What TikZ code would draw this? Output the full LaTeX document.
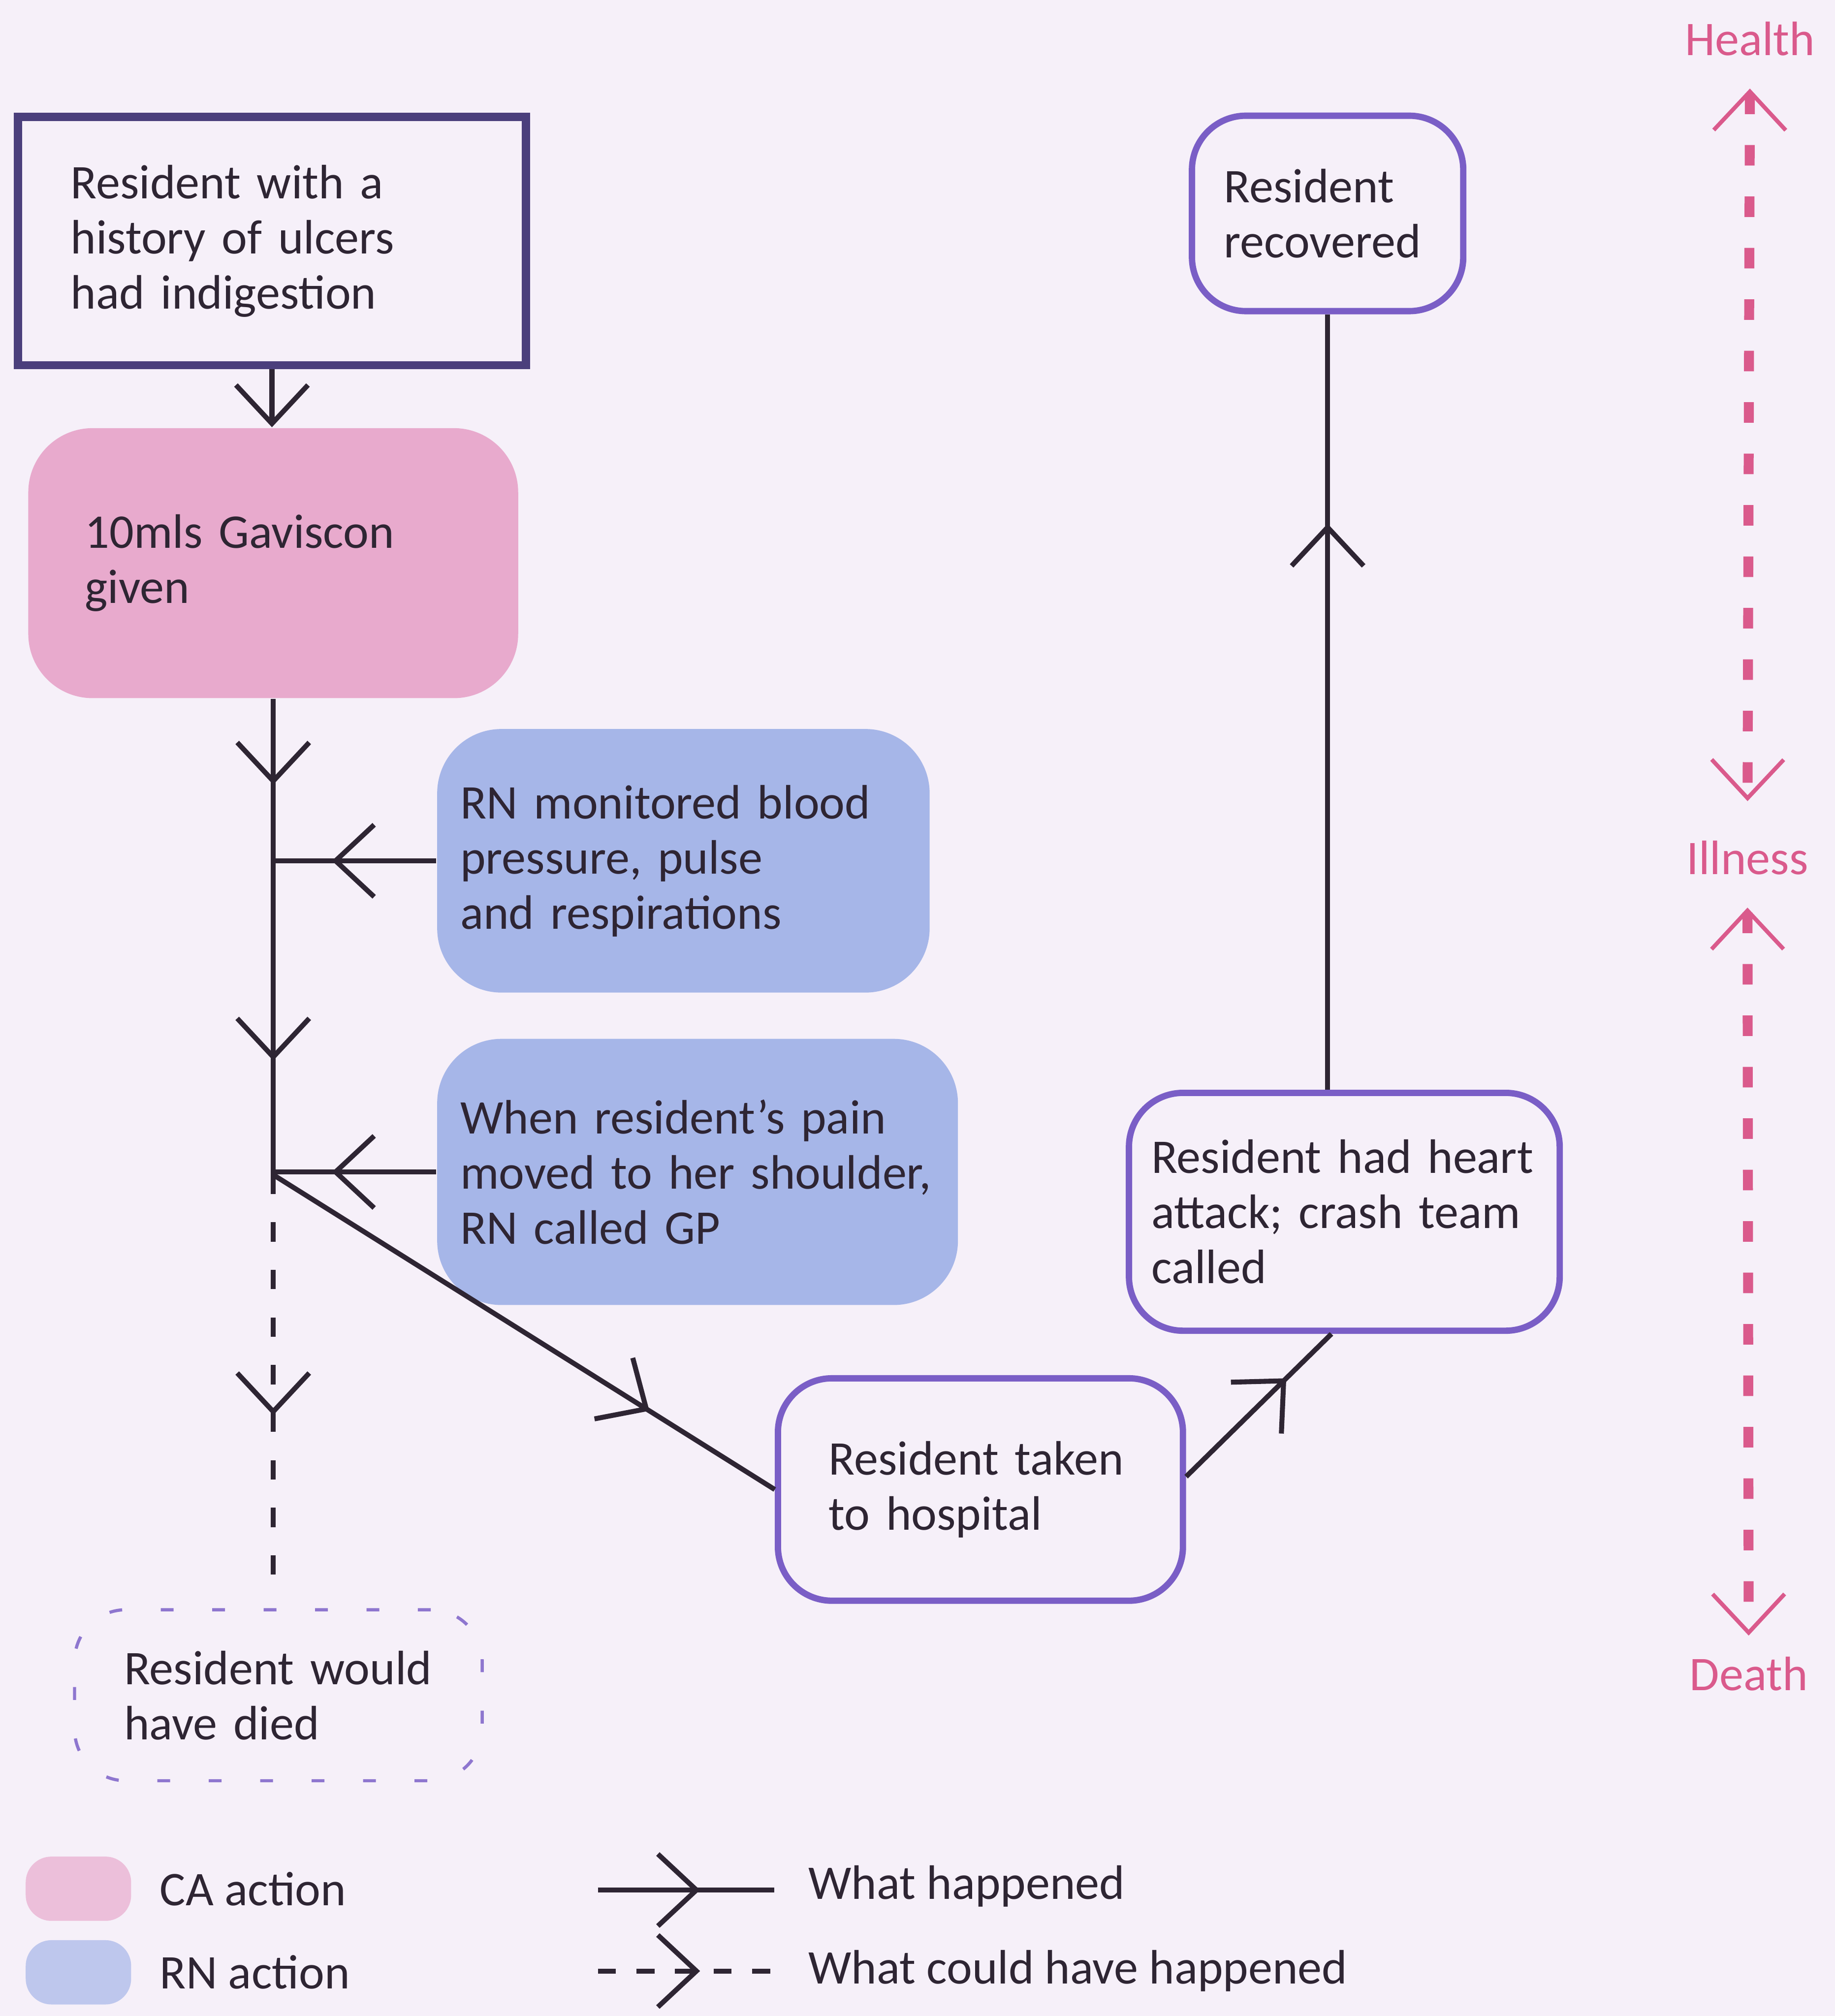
\documentclass[tikz,border=0pt]{standalone}
\usepackage{fontspec}
\setmainfont{Carlito}
\usepackage{xcolor}
\usepackage{tikz}
\usetikzlibrary{arrows.meta,decorations.markings,positioning}

\definecolor{bgcol}{HTML}{F6F0F9}
\definecolor{ink}{HTML}{2E2533}
\definecolor{framecol}{HTML}{4B3F7C}
\definecolor{outcol}{HTML}{7A5EC6}
\definecolor{cafill}{HTML}{E8AACD}
\definecolor{rnfill}{HTML}{A6B6E8}
\definecolor{scalecol}{HTML}{DA5A8C}

\newcommand{\figfont}{\fontsize{10.7}{12.2}\selectfont}

\tikzset{
  vhead/.tip={Straight Barb[length=3mm,width=5.6mm]},
  scalehead/.tip={Straight Barb[length=3mm,width=5.6mm,line width=0.9pt]},
  midhead/.style={postaction={decorate,
    decoration={markings, mark=at position #1 with {\arrow{vhead}}}}},
  txtbox/.style={font=\figfont, text=ink, align=left, inner ysep=0pt},
  sharpbox/.style={txtbox, draw=framecol, line width=1.8pt},
  cabox/.style={txtbox, rounded corners=0.5cm, fill=cafill},
  rnbox/.style={txtbox, rounded corners=0.5cm, fill=rnfill},
  outbox/.style={txtbox, rounded corners=0.42cm, draw=outcol, line width=1.4pt},
  diedbox/.style={txtbox, rounded corners=0.4cm, draw=outcol!85, line width=0.7pt,
    dash pattern=on 1mm off 3mm},
  link/.style={draw=ink, line width=1.1pt},
  scaleaxis/.style={draw=scalecol, line width=2.2pt, dash pattern=on 1.6mm off 2.4mm,
    scalehead-scalehead},
  scalelab/.style={font=\figfont, text=scalecol, inner sep=0pt},
  keylab/.style={font=\figfont, text=ink, inner sep=0pt},
  keyblob/.style={rounded corners=0.2cm, minimum width=0.82cm, minimum height=0.5cm}
}

\begin{document}
\begin{tikzpicture}
  \useasboundingbox (0,0) rectangle (14.27,-15.68);
  \fill[bgcol] (0,0) rectangle (14.27,-15.68);

  \node[sharpbox, text width=3.13cm, inner xsep=0.41cm, minimum height=1.93cm] (hist) at (2.115,-1.875) {Resident with a\\history of ulcers\\had indigestion};
  \node[cabox, text width=2.93cm, inner xsep=0.44cm, minimum height=2.10cm] (gav) at (2.125,-4.38) {10mls Gaviscon\\given};
  \node[rnbox, text width=3.47cm, inner xsep=0.18cm, minimum height=2.05cm] (monit) at (5.315,-6.695) {RN monitored blood\\pressure, pulse\\and respirations};
  \node[rnbox, text width=3.69cm, inner xsep=0.18cm, minimum height=2.07cm] (pain) at (5.425,-9.115) {When resident's pain\\moved to her shoulder,\\RN called GP};
  \node[outbox, text width=2.36cm, inner xsep=0.395cm, minimum height=1.73cm] (hosp) at (7.625,-11.585) {Resident taken\\to hospital};
  \node[outbox, text width=3.0cm, inner xsep=0.175cm, minimum height=1.85cm] (heart) at (10.455,-9.425) {Resident had heart\\attack; crash team\\called};
  \node[outbox, text width=1.61cm, inner xsep=0.25cm, minimum height=1.52cm] (recov) at (10.325,-1.66) {Resident\\recovered};
  \node[diedbox, text width=2.40cm, inner xsep=0.385cm, minimum height=1.33cm] (died) at (2.165,-13.185) {Resident would\\have died};

  \path (gav.south) ++(0,-3.70) coordinate (jn);
  \path (jn) ++(0,-3.17) coordinate (dend);

  \draw[link, -vhead] (hist.south) -- (hist.south |- gav.north);
  \draw[link, midhead=0.18, midhead=0.76] (gav.south) -- (jn);
  \draw[link, midhead=0.64] (monit.west) -- (monit.west -| jn);
  \draw[link, midhead=0.64] (pain.west) -- (pain.west -| jn);
  \draw[link, dash pattern=on 1.5mm off 2.2mm, midhead=0.59] (jn) -- (dend);
  \draw[link, midhead=0.75] (jn) -- (hosp.west);
  \draw[link, midhead=0.69] ([yshift=0.1cm]hosp.east) -- ([xshift=-0.1cm]heart.south);
  \draw[link, midhead=0.73] (recov.south |- heart.north) -- (recov.south);

  \node[scalelab] (health) at (13.61,-0.30) {Health};
  \node[scalelab] (illness) at (13.59,-6.67) {Illness};
  \node[scalelab] (death) at (13.60,-13.02) {Death};
  \draw[scaleaxis, shorten <=2.5mm, shorten >=3mm] (health.south) -- (illness.north);
  \draw[scaleaxis, shorten <=2.5mm, shorten >=1.6mm] (illness.south) -- (death.north);

  \node[keyblob, fill=cafill!70!bgcol] (cakey) at (0.61,-14.69) {};
  \node[keyblob, fill=rnfill!70!bgcol] (rnkey) at (0.61,-15.34) {};
  \node[keylab, right=0.21cm of cakey] (calab) {CA action};
  \node[keylab, right=0.21cm of rnkey] (rnlab) {RN action};

  \coordinate (solidA) at (4.65,-14.70);
  \coordinate (solidB) at (6.02,-14.70);
  \coordinate (dashA) at (4.65,-15.33);
  \coordinate (dashB) at (6.02,-15.33);
  \draw[link, midhead=0.58] (solidA) -- (solidB);
  \draw[link, dash pattern=on 1.4mm off 1.6mm, midhead=0.58] (dashA) -- (dashB);
  \node[keylab, anchor=west] (happened) at (6.28,-14.67) {What happened};
  \node[keylab, anchor=west] (could) at (6.28,-15.33) {What could have happened};
\end{tikzpicture}
\end{document}
